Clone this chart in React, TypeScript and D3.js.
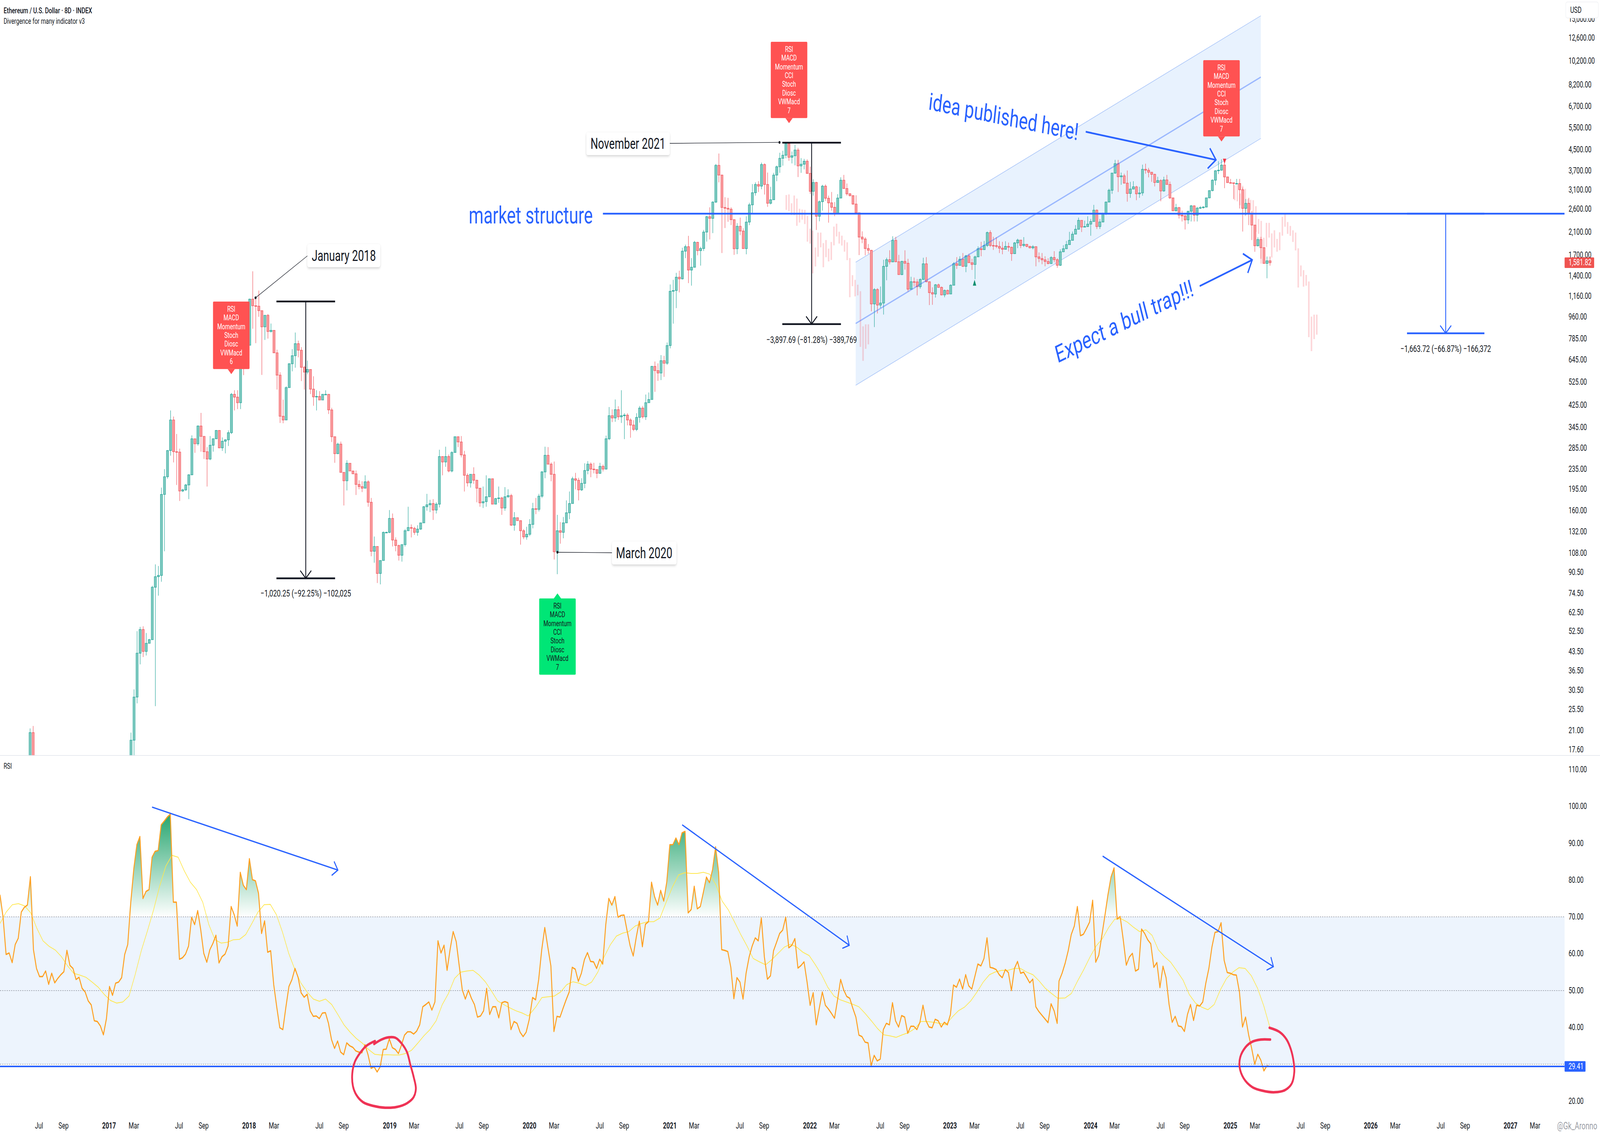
import { area, curveCatmullRom, line, scaleLinear, scaleLog } from "d3";

type Bar = [number, number, number]; // close, high, low; open is the previous close

const WIDTH = 5741;
const HEIGHT = 2903;
const PANE_RIGHT = 5614;
const PANE_SPLIT = 1934;
const LAST_BAR = 403.7;

const BLUE = "#2962ff";
const UP = { fill: "#7dc9bf", stroke: "#26a69a" };
const DOWN = { fill: "#f99a9c", stroke: "#f0555d" };
const FONT = "Roboto, sans-serif";

const priceTicks = [
  15000, 12600, 10200, 8200, 6700, 5500, 4500, 3700, 3100, 2600, 2100, 1700, 1400, 1160, 960, 785, 645, 525, 425, 345,
  285, 235, 195, 160, 132, 108, 90.5, 74.5, 62.5, 52.5, 43.5, 36.5, 30.5, 25.5, 21, 17.6,
];
const rsiTicks = [110, 100, 90, 80, 70, 60, 50, 40, 20];
const timeTicks: [string, number][] = [
  ["Jul", 2.9], ["Sep", 10.9], ["2017", 25.7], ["Mar", 33.8], ["Jul", 48.5], ["Sep", 56.5],
  ["2018", 71.3], ["Mar", 79.4], ["Jul", 94.2], ["Sep", 102.1], ["2019", 117.1], ["Mar", 125],
  ["Jul", 139.8], ["Sep", 147.7], ["2020", 162.6], ["Mar", 170.6], ["Jul", 185.5], ["Sep", 193.4],
  ["2021", 208.3], ["Mar", 216.2], ["Jul", 231.1], ["Sep", 239], ["2022", 253.9], ["Mar", 261.9],
  ["Jul", 276.8], ["Sep", 284.7], ["2023", 299.5], ["Mar", 307.5], ["Jul", 322.4], ["Sep", 330.3],
  ["2024", 345.3], ["Mar", 353.1], ["Jul", 368.1], ["Sep", 375.9], ["2025", 390.8], ["Mar", 398.8],
  ["Jul", 413.7], ["Sep", 421.7], ["2026", 436.5], ["Mar", 444.5], ["Jul", 459.3], ["Sep", 467.2],
  ["2027", 482], ["Mar", 490],
];

// the two candles of mid 2016 poking into the pane before price drops below it
const earlyBars: Bar[] = [[20.6, 21.4, 14], [14.6, 21.9, 13.5]];

const bars2017: Bar[] = [
  [19.2, 20.6, 15.5], [28.6, 30.7, 16.6], [42.9, 52.6, 27], [53.4, 54.7, 38.7], [43.6, 55, 41.4], [47, 51.7, 42],
  [48.6, 49, 47.5], [78.9, 80, 48.6], [87, 97.5, 26.3], [88, 96, 73], [186, 198, 83], [219, 235, 110], [279, 280, 215],
  [370, 404, 266], [276, 382, 250], [275, 325, 203], [192, 284, 175], [194, 196, 190], [203, 205, 192], [223, 224, 178],
  [311, 321, 222], [297, 311, 273], [350, 352, 292], [318, 395, 276], [276, 318, 258], [258, 288, 200], [293, 319, 255],
  [311, 312, 276], [336, 337, 310], [286, 336, 285], [304, 315, 278], [308, 310, 272], [329, 336, 291], [469, 475, 325],
  [457, 487, 404], [434, 487, 409], [785, 790, 409], [760, 830, 560], [738, 800, 690],
];
const bars2018: Bar[] = [
  [1130, 1135, 738], [1063, 1461, 860], [1059, 1130, 752], [1016, 1224, 960], [875, 1016, 561], [973, 975, 775],
  [838, 985, 785], [847, 902, 830], [688, 847, 688], [560, 708, 490], [383, 575, 360], [370, 446, 359], [499, 505, 370],
  [622, 625, 499], [670, 712, 580], [749, 830, 600], [705, 770, 660], [602, 725, 530], [576, 610, 490], [590, 640, 565],
  [492, 590, 470], [458, 554, 422], [460, 487, 404], [445, 483, 445], [469, 470, 445], [469, 487, 467], [406, 470, 391],
  [317, 414, 302], [271, 317, 249], [296, 300, 270], [228, 303, 228], [211, 228, 168], [248, 255, 193], [231, 248, 231],
  [225, 231, 225], [204, 232, 185], [200, 212, 195], [197, 210, 190], [209, 222, 197], [173, 212, 166], [110, 180, 105],
  [115, 126, 99], [89.6, 115, 82], [101, 101, 81], [131, 132, 101], [131, 132, 130],
];
const bars2019: Bar[] = [
  [149, 161, 130], [122, 156, 115], [116, 125, 110], [106, 117, 101], [117, 117, 100], [133, 135, 115], [137, 166, 133],
  [136, 141, 125], [131, 138, 128], [135, 140, 127], [143, 143, 134], [166, 167, 143], [169, 187, 160], [171, 177, 158],
  [161, 178, 147], [170, 173, 156], [264, 281, 165], [251, 264, 222], [264, 289, 240], [231, 269, 228], [274, 277, 228],
  [317, 317, 274], [302, 317, 288], [268, 319, 262], [222, 278, 191], [207, 226, 200], [224, 224, 198], [212, 239, 205],
  [197, 213, 173], [172, 197, 166], [174, 200, 164], [182, 222, 166], [215, 215, 182], [170, 215, 170], [179, 180, 170],
  [180, 200, 172], [164, 182, 154], [182, 199, 160], [184, 195, 180], [140, 187, 139], [150, 158, 133], [146, 150, 146],
  [133, 146, 117],
];
const bars2020: Bar[] = [
  [125.6, 135, 123], [128.7, 138, 122.5], [141, 148, 126.6], [163, 172, 136], [162, 180, 155], [183, 187, 159],
  [229, 231, 180], [267, 289, 216], [246, 288, 245], [224, 250, 210], [109.5, 252, 102], [133, 154, 89], [131, 144, 118],
  [143, 151, 124], [157, 176, 143], [171, 191, 148], [215, 219, 171], [212, 227, 195], [194, 217, 176], [206, 216, 192],
  [232, 248, 197], [246, 253, 224], [235, 250, 218], [234, 249, 226], [226, 235, 216], [241, 249, 225], [235, 245, 230],
  [311, 320, 234], [385, 417, 307], [377, 408, 363], [407, 447, 364], [381, 420, 370], [385, 487, 360], [387, 394, 310],
  [370, 394, 352], [353, 376, 314], [339, 369, 334], [379, 394, 334], [413, 421, 361], [381, 421, 375], [434, 468, 370],
  [447, 477, 434], [607, 610, 447], [584, 635, 480], [571, 624, 531], [640, 674, 535], [625, 669, 551], [736, 757, 616],
];
const bars2021: Bar[] = [
  [1215, 1294, 717], [1224, 1350, 901], [1384, 1440, 1040], [1363, 1470, 1203], [1760, 1816, 1355], [1835, 1869, 1651],
  [1478, 2027, 1310], [1517, 1651, 1280], [1910, 1935, 1512], [1769, 1920, 1695], [1804, 1833, 1540], [2100, 2140, 1763],
  [2420, 2440, 1923], [2383, 2640, 1962], [2770, 2790, 2080], [3890, 3940, 2745], [3555, 4340, 3325], [2636, 3570, 1730],
  [2616, 2900, 2180], [2595, 2880, 2310], [2355, 2640, 2240], [1800, 2360, 1700], [2215, 2280, 1713], [2120, 2400, 2040],
  [1802, 2174, 1800], [2303, 2430, 1710], [2700, 2750, 2240], [3020, 3270, 2510], [3260, 3325, 2940], [3210, 3360, 3040],
  [3920, 3990, 3120], [3260, 3960, 2970], [2740, 3640, 2650], [2830, 3190, 2710], [3555, 3630, 2825], [3840, 3880, 3360],
  [4150, 4370, 3630], [4270, 4450, 3880], [4750, 4760, 4150], [4190, 4790, 4060], [4250, 4420, 3960], [4480, 4700, 3890],
  [3870, 4570, 3490], [3930, 4160, 3630], [4040, 4130, 3750], [3610, 4110, 3600],
];
const bars2022: Bar[] = [
  [3060, 3840, 2990], [3320, 3420, 2940], [2430, 3340, 2140], [2780, 2810, 2320], [3210, 3250, 2560], [2870, 3260, 2800],
  [2750, 2940, 2290], [2640, 3040, 2560], [2490, 2770, 2430], [2875, 2980, 2480], [3390, 3480, 2870], [3140, 3560, 3130],
  [2990, 3290, 2940], [2940, 3010, 2920], [2720, 2950, 2700], [2510, 2950, 2480], [2005, 2510, 1697], [1970, 2113, 1895],
  [1804, 2005, 1693], [1775, 1880, 1718], [1081, 1780, 1010], [1235, 1250, 873], [1070, 1250, 990], [1090, 1270, 1043],
  [1530, 1625, 980], [1627, 1657, 1345], [1594, 1775, 1558], [1945, 2020, 1590], [1596, 2010, 1590], [1418, 1700, 1415],
  [1602, 1610, 1410], [1574, 1775, 1484], [1239, 1640, 1212], [1327, 1390, 1239], [1325, 1380, 1268], [1268, 1360, 1170],
  [1355, 1370, 1245], [1566, 1657, 1350],
];
const bars2023: Bar[] = [
  [1327, 1665, 1320], [1200, 1330, 1070], [1185, 1260, 1072], [1290, 1300, 1147], [1260, 1305, 1255], [1175, 1270, 1170],
  [1225, 1235, 1150], [1185, 1235, 1180], [1285, 1295, 1185], [1568, 1590, 1285], [1543, 1665, 1493], [1634, 1680, 1550],
  [1530, 1730, 1520], [1685, 1700, 1450], [1582, 1720, 1580], [1557, 1640, 1480], [1670, 1690, 1360], [1800, 1840, 1670],
  [1785, 1920, 1680], [1855, 1935, 1785], [2090, 2110, 1830], [1855, 2135, 1830], [1852, 2010, 1780], [1840, 2000, 1810],
  [1810, 1930, 1730], [1790, 1920, 1710], [1840, 1930, 1785], [1825, 1905, 1755], [1720, 1835, 1610], [1900, 1915, 1715],
  [1950, 1975, 1810], [1855, 1955, 1810], [1875, 2005, 1830], [1840, 1880, 1825], [1815, 1850, 1805], [1835, 1860, 1790],
  [1670, 1840, 1530], [1645, 1740, 1590], [1625, 1730, 1560], [1600, 1680, 1530], [1570, 1650, 1560], [1660, 1680, 1565],
  [1627, 1760, 1590], [1545, 1650, 1510], [1750, 1790, 1535], [1800, 1860, 1745],
];
const bars2024: Bar[] = [
  [1870, 1935, 1800], [1945, 2105, 1870], [2060, 2110, 1980], [2155, 2240, 2060], [2340, 2400, 2150], [2200, 2340, 2100],
  [2210, 2335, 2195], [2260, 2430, 2200], [2315, 2370, 2030], [2570, 2700, 2315], [2210, 2590, 2160], [2305, 2370, 2160],
  [2480, 2510, 2295], [2770, 2785, 2460], [3090, 3135, 2770], [3620, 3630, 2990], [3950, 4090, 3600], [3500, 4090, 3040],
  [3530, 3640, 3250], [3300, 3600, 3290], [3000, 3710, 2780], [3125, 3340, 2880], [3190, 3360, 3120], [2990, 3220, 2820],
  [3015, 3190, 2880], [3750, 3915, 2940], [3720, 3950, 3600], [3650, 3800, 3480], [3580, 3660, 3340], [3320, 3600, 3200],
  [3380, 3500, 3310], [3070, 3420, 2790], [3400, 3500, 3050], [3260, 3560, 3250], [2880, 3350, 2850],
];
const bars2025: Bar[] = [
  [2556, 2880, 2550], [2632, 2725, 2540], [2455, 2650, 2380], [2438, 2560, 2315], [2350, 2470, 2150], [2545, 2555, 2264],
  [2675, 2700, 2315], [2455, 2690, 2315], [2620, 2650, 2315], [2632, 2670, 2600], [2645, 2670, 2610], [2880, 2885, 2640],
  [3080, 3085, 2870], [3390, 3420, 3060], [3700, 3720, 3240], [3720, 4040, 3590], [3900, 4115, 3700], [3495, 4090, 3150],
  [3315, 3500, 3310], [3310, 3430, 3290], [3290, 3320, 2850], [3290, 3430, 3270], [3105, 3430, 2610], [2613, 3170, 2110],
  [2738, 2850, 2455], [2484, 2880, 2240], [2240, 2550, 1950], [1850, 2240, 1750], [1960, 2000, 1840], [1818, 2010, 1640],
  [1572, 1820, 1565], [1610, 1675, 1370], [1581.82, 1675, 1540],
];
// each yearly run starts on the bar it sits at in the picture
const barRuns: [Bar[], number][] = [
  [bars2017, 32.85], [bars2018, 71.5], [bars2019, 117], [bars2020, 160.7], [bars2021, 208.4],
  [bars2022, 254], [bars2023, 291.8], [bars2024, 337.4], [bars2025, 372.1],
];

// projected "bars pattern" of the 2021-22 drop
const ghostHighs = [
  2957, 2974, 2740, 2943, 2861, 2604, 2585, 2577, 2438, 2166, 2128, 1821, 2090, 2090, 1896, 1951, 1802, 1916, 2209, 2269,
  2106, 2031, 1951, 1910, 1652, 1410, 1350, 1291, 1216, 879, 895, 895,
];
const ghostLows = [
  2577, 2550, 2460, 2453, 2225, 2293, 2355, 2262, 1922, 1888, 1434, 1528, 1672, 1824, 1517, 1665, 1601, 1623, 1857, 2016,
  1888, 1854, 1752, 1620, 1150, 1274, 1159, 1170, 727, 639, 714, 744,
];

const rsi2016 = [
  76, 70, 59.8, 60.2, 57.6, 62.5, 64.2, 71.3, 72.6, 73.2, 80.9, 61.1, 56, 53.8, 53.8, 55.3, 51.7, 54.7, 52.1, 53.3, 54.3,
  55.1, 60.9, 56.8, 56, 53, 53.6, 50.6, 49.6, 47.2, 46.1, 41.8, 41.6, 40.4, 38, 42.4, 51.1, 48.7, 52, 52.3, 53.5, 59.8,
];
const rsi2017 = [
  62.5, 74, 83.1, 89.6, 91.8, 75, 76.9, 77.4, 86.2, 87.8, 88, 95, 96, 97.1, 97.9, 74, 74, 58.5, 58.9, 59.9, 62.1, 69.9,
  67.9, 71.7, 66.5, 60.1, 57.7, 61.1, 62.8, 65, 57.5, 59.2, 59.9, 62.1, 72.8, 70.6, 67.5, 82.1, 78.6, 77.4, 85.8, 80.1,
  79.8, 76.4, 65.5, 68.9, 60.4, 60.8, 51.6, 45.5, 39.9, 39.4, 45.5, 51.1, 53, 56, 53.6, 49.4, 48.2, 49, 44.5, 43, 43.1,
  42.4, 43.9, 44, 41.1, 36.7, 34.3, 36.3, 33.3, 32.6, 35.8, 35, 34.6, 33.6, 33.3, 33.1, 35.3, 32.6, 28.9, 29.3, 27.9,
  29.3, 34, 34.1, 36.9, 34.5, 34, 32.9, 35.2, 37.9, 38.8, 38.8, 38.2, 39, 40.7, 45.6, 46.2, 46.9, 44.7, 46.9, 63.5, 60.2,
  62.3, 55.5, 61.2, 66, 63.3, 56.7, 50.2, 47.7, 50.1, 47.9, 46.2, 42.8, 43.1, 44.5, 50.6, 43.5, 45.6, 45.6, 42.6, 46.7,
  47, 46.7, 39.4, 41.6, 41.1, 38.7, 37.5, 38.7, 42.1,
];
const rsi2020 = [
  48.1, 47.5, 53, 61.1, 67.1, 61.8, 56.7, 38.9, 43, 42.8, 45.2, 47.5, 49.6, 56.3, 55.8, 52.5, 54.7, 58.4, 60.3, 57.9,
  57.8, 56, 58.5, 57.2, 67.9, 75, 73.2, 75.5, 69.9, 70.4, 70.5, 66.2, 62.1, 59.4, 64.5, 68.8, 61.9, 68, 68.7, 79.4, 75.5,
  73.2, 77.2, 74.3, 79.5, 89.6, 89.6, 91.4, 89.6, 92.8, 93.2, 71.1, 72, 78.3, 72.2, 72.8, 76.7, 80.8, 79.3, 82.8, 89,
  82.1, 61.1, 60.9, 60.6, 56.3, 47.8, 53.5, 52.3, 47.7, 54.7, 59.1, 62.1, 64.3, 63.5, 69.7, 59.1, 53.1, 54, 60.8, 63.1,
  65.5, 66.4, 69.9, 61.6, 62.3, 64.1, 56.1, 56.8, 57.8, 52.3, 46, 49.4, 40.7, 45.2, 49.6, 46, 45, 43.8, 42.5, 47.5, 53,
  50.2, 48.4, 47.9, 45.2, 42.8, 37.9, 37.5, 36, 35.8, 29.6, 32.4, 30.9, 31.4, 39.4, 41.1, 40.7, 46.7, 41.8, 40.1, 43.2,
  42.8, 38.4, 40.3, 40.3, 39.4, 41.4, 46, 41.8, 40.1, 39.9, 42.2, 41.8, 40.1, 41.4, 40.7, 43.5, 51.5, 50.9, 53.1, 50.4,
  54.3, 51.3, 50.4, 53.8, 57.2, 56.7, 58.7, 64.3, 56.3, 56.1, 55.7, 54.3, 53.5, 55.7, 54.9, 50, 56, 57.9, 54.7, 55, 53.6,
  52.1, 53.1, 45.6, 44.3, 43.3, 42.3, 41.3, 46.4, 44.5, 41.1,
];
const rsi2024 = [
  52.6, 54.7, 57.4, 60.8, 65.2, 67.5, 72.8, 64.9, 65.3, 66.9, 68.6, 74.5, 57.7, 59.6, 64.9, 70.3, 76, 80.8, 83.3, 69.4,
  70.1, 63.8, 56.9, 59.1, 60.1, 55.3, 55.8, 66.7, 65.5, 63.8, 62.7, 56.3, 57.6, 50.8, 56.6, 53.5, 46.2, 41.4, 43, 40.4,
  40.2, 38.9, 43.5, 46.2, 41.9, 46, 45.8, 46.9, 52, 56, 61.8, 65.8, 66, 68.4, 58.2, 54.9, 54.7, 54.3, 54.2, 49.6, 40.1,
  42.8, 38, 34.3, 30, 32.7, 31.1, 28.2, 29.6, 29.41,
];

// moving average of the RSI, read every second bar
const smaEarly = [
  68.2, 71.3, 73.3, 73.6, 73, 71.1, 66.9, 63.5, 62, 61, 59.2, 56.7, 54.7, 54.2, 53.6, 52.3, 50.9, 48.9, 47.3, 46.6, 46.9,
  48.5, 54.3, 60.8, 66.2, 71.9, 78.4, 83.8, 86.7, 86.2, 82.5, 79.4, 77.4, 74, 67.9, 63.8, 62.9, 63.1, 63.8, 63.9, 65.2,
  68.2, 71.3, 73.3, 73.4, 70.6, 65.8, 60.1, 55.7, 52, 49.6, 47.7, 47.1, 47.7, 46.2, 43.5, 40.7, 38.7, 37, 35.7, 34, 32.7,
  32.5, 32.6, 32.5, 32.5, 32.9, 33.8, 35.7, 37.7, 39.4, 41.8, 46.2, 49.2, 53.3, 55, 55.3, 55.5, 54.2, 52.4, 49.9, 47.2,
  46.2, 45.3, 44.5, 43.9, 43.1,
];
const smaMiddle = [
  45.5, 48.1, 48.3, 48.5, 49.6, 51.6, 52.4, 52, 51.3, 52.3, 55, 59.1, 62.4, 64.8, 65.6, 66, 67.5, 68.2, 68.7, 68.7, 69.7,
  74, 78.1, 81.4, 82, 81.8, 81.8, 82.1, 81.6, 78.7, 74.3, 71.9, 68.6, 65.2, 62.1, 58.7, 57.8, 57, 58.4, 60.1, 61.8, 62.6,
  61.8, 60.4, 59.5, 57, 54.3, 50.9, 48.5, 47.5, 46.9, 46.3, 45.6, 43.8, 41.8, 39.7, 38, 37.7, 37.3, 38, 38.6, 39.7, 41.6,
  41.6, 41.4, 41.1, 40.7, 42.8, 44.5, 45.5, 47.2, 49.6, 52.3, 54.3, 55.1, 55.5, 55.5, 56, 56, 55, 54.3, 52.6, 50.6, 49.2,
  47.9,
];
const smaLate = [
  48, 49.2, 52.6, 55.7, 59.1, 62.1, 64.1, 67.1, 69.4, 69.5, 68.6, 67.2, 66, 66.5, 65, 61.1, 59.2, 57.7, 55.3, 52.8, 48.9,
  46.6, 45.5, 44.8, 46.2, 50.2, 53.3, 55, 56.2, 56, 54, 50.6, 45.8, 39.9,
];

const channelBars = [268.8, 400.7];
const channelTop = [1590, 15490];
const channelMid = [902, 8790];
const channelLow = [510, 4988];

const STRUCTURE_LEVEL = 2488;
const RSI_LEVEL = 29.41;
const LAST_PRICE = 1581.82;

const measures = [
  { from: 80.2, to: 99.3, top: 1105.9, bottom: 85.65, label: "−1,020.25 (−92.25%) −102,025", color: "#131722", textY: 1519 },
  { from: 244.9, to: 264, top: 4795, bottom: 897.3, label: "−3,897.69 (−81.28%) −389,769", color: "#131722", textY: 870 },
  { from: 448.3, to: 473.5, top: 2488, bottom: 824.3, label: "−1,663.72 (−66.87%) −166,372", color: BLUE, textY: 893 },
];

const priceArrows = [
  { from: [343.7, 5305], to: [386.1, 4090] },
  { from: [380.8, 1275], to: [397.9, 1624] },
];
const rsiArrows = [
  { from: [39.7, 99.8], to: [100.2, 82.7] },
  { from: [212.3, 95], to: [266.7, 62.3] },
  { from: [349.2, 86.5], to: [404.8, 56.5] },
];

const circleOne: [number, number][] = [
  [112, 35.5], [114.4, 36.7], [116.7, 37.3], [118.9, 37.2], [121, 35.6], [122.7, 33.3], [123.8, 29.9], [124.9, 26.5],
  [125.6, 23.4], [124.9, 21.1], [122.7, 19.4], [119.4, 18.4], [115.6, 18.2], [111.7, 18.7], [108.4, 19.7], [106.2, 21.7],
  [105.1, 24.1], [104.9, 27.5], [105.7, 30.6], [107.3, 32.9], [109.5, 35], [112.3, 36.3],
];
const circleTwo: [number, number][] = [
  [403.5, 39.9], [406.9, 38.7], [409.1, 36.7], [410.5, 34], [411.4, 30.6], [411.6, 27.9], [410.8, 24.8], [408.6, 23],
  [405.2, 22.4], [401.3, 22.8], [397.9, 23.8], [395.1, 26.2], [393.8, 29.2], [394, 31.9], [395.7, 34.6], [397.9, 36.1],
  [400.7, 36.7], [403.8, 36.7],
];

const signalLabels = [
  { bar: 65.5, lines: ["RSI", "MACD", "Momentum", "Stoch", "Diosc", "VWMacd", "6"], top: 772, fill: "#ff5252", ink: "#ffffff" },
  { bar: 247.1, lines: ["RSI", "MACD", "Momentum", "CCI", "Stoch", "Diosc", "VWMacd", "7"], top: 107, fill: "#ff5252", ink: "#ffffff" },
  { bar: 387.9, lines: ["RSI", "MACD", "Momentum", "CCI", "Stoch", "Diosc", "VWMacd", "7"], top: 154, fill: "#ff5252", ink: "#ffffff" },
];
const greenLabel = { bar: 171.7, lines: ["RSI", "MACD", "Momentum", "CCI", "Stoch", "Diosc", "VWMacd", "7"], top: 1532 };

const callouts = [
  { text: "January 2018", box: [1103, 625, 261, 59], from: [1103, 655], dot: [73.4, 1144] },
  { text: "November 2021", box: [2104, 339, 299, 58], from: [2403, 367], dot: [244, 4810] },
  { text: "March 2020", box: [2196, 1386, 231, 59], from: [2196, 1415], dot: [171.7, 109] },
];

const x = scaleLinear().domain([0, LAST_BAR]).range([108, 4557]);
const y = scaleLog().domain([17.6, 12600]).range([1919, 97.6]);
const yRsi = scaleLinear().domain([20, 110]).range([2818.7, 1970]);

const priceFormat = (v: number) => v.toLocaleString("en-US", { minimumFractionDigits: 2, maximumFractionDigits: 2 });

// spread a run of readings evenly over the bars it covers
function spread(values: number[], start: number, end: number): [number, number][] {
  const pos = scaleLinear().domain([0, values.length - 1]).range([start, end]);
  return values.map((v, i) => [pos(i), v]);
}

const rsiPoints = [
  ...spread([...rsi2016, ...rsi2017], -9.8, 162.5),
  ...spread(rsi2020, 163.6, 334.4),
  ...spread(rsi2024, 335, LAST_BAR),
];
const smaPoints = [
  ...spread(smaEarly, -9.8, 162.2),
  ...spread(smaMiddle, 164.6, 334.6),
  ...spread(smaLate, 337, LAST_BAR),
];

function candleData() {
  const out = earlyBars.map((b, i) => ({ bar: i, open: i === 0 ? 14 : earlyBars[i - 1][0], close: b[0], high: b[1], low: b[2] }));
  let prev = 16;
  barRuns.forEach(([bars, start], r) => {
    const next = r + 1 < barRuns.length ? barRuns[r + 1][1] : LAST_BAR + (LAST_BAR - start) / (bars.length - 1);
    const step = (next - start) / bars.length;
    bars.forEach((b, i) => {
      out.push({ bar: start + i * step, open: prev, close: b[0], high: b[1], low: b[2] });
      prev = b[0];
    });
  });
  return out;
}

function arrowHead(x1: number, y1: number, x2: number, y2: number, len: number) {
  const a = Math.atan2(y2 - y1, x2 - x1);
  const wing = Math.PI / 4;
  const p = (s: number) => `${x2 - len * Math.cos(a + s)},${y2 - len * Math.sin(a + s)}`;
  return `M${p(wing)}L${x2},${y2}L${p(-wing)}`;
}

function Candles() {
  return (
    <g>
      {candleData().map((d) => {
        const c = d.close >= d.open ? UP : DOWN;
        const top = y(Math.max(d.open, d.close));
        const bottom = y(Math.min(d.open, d.close));
        return (
          <g key={d.bar}>
            <line x1={x(d.bar)} x2={x(d.bar)} y1={y(d.high)} y2={y(d.low)} stroke={c.stroke} strokeWidth={1.6} />
            <rect x={x(d.bar) - 4} y={top} width={8} height={Math.max(bottom - top, 1.5)} fill={c.fill} stroke={c.stroke} strokeWidth={1.3} />
          </g>
        );
      })}
    </g>
  );
}

function GhostBars({ startBar, factor }: { startBar: number; factor: number }) {
  return (
    <g>
      {ghostHighs.map((h, i) => (
        <rect
          key={i}
          x={x(startBar + i * 0.862) - 2.7}
          y={y(h * factor)}
          width={5.4}
          height={y(ghostLows[i] * factor) - y(h * factor)}
          fill="#f7525f"
          fillOpacity={0.24}
        />
      ))}
    </g>
  );
}

function Label({ bar, lines, top, fill, ink, below }: { bar: number; lines: string[]; top: number; fill: string; ink: string; below: boolean }) {
  const cx = x(bar);
  const h = lines.length * 22.4 + 16;
  const tip = below ? `M${cx - 13},${top + h}L${cx},${top + h + 13}L${cx + 13},${top + h}Z` : `M${cx - 13},${top}L${cx},${top - 13}L${cx + 13},${top}Z`;
  return (
    <g>
      <rect x={cx - 65.5} y={top} width={131} height={h} rx={3} fill={fill} />
      <path d={tip} fill={fill} />
      {lines.map((t, i) => (
        <text key={i} x={cx} y={top + 19 + i * 22.4} textAnchor="middle" dominantBaseline="central" fontSize={19.5} fontFamily={FONT} fill={ink}>
          {t}
        </text>
      ))}
    </g>
  );
}

export default function App() {
  const pointLine = line<[number, number]>().x((d) => x(d[0])).y((d) => yRsi(d[1]));
  const rsiArea = area<[number, number]>()
    .x((d) => x(d[0]))
    .y0(yRsi(70))
    .y1((d) => yRsi(Math.max(d[1], 70)));
  const freehand = line<[number, number]>()
    .x((d) => x(d[0]))
    .y((d) => yRsi(d[1]))
    .curve(curveCatmullRom);

  const channelPath = `M${x(channelBars[0])},${y(channelTop[0])}L${x(channelBars[1])},${y(channelTop[1])}L${x(channelBars[1])},${y(channelLow[1])}L${x(channelBars[0])},${y(channelLow[0])}Z`;

  // the window can be narrower than the picture, so the drawing scales to whatever it gets
  return (
    <svg
      viewBox={`0 0 ${WIDTH} ${HEIGHT}`}
      preserveAspectRatio="none"
      style={{ position: "absolute", left: 0, top: 0, width: "100vw", height: "100vh", background: "#ffffff" }}
      fontFamily={FONT}
    >
      <defs>
        <clipPath id="price-pane">
          <rect x={0} y={0} width={PANE_RIGHT} height={PANE_SPLIT} />
        </clipPath>
        <linearGradient id="rsi-over" gradientUnits="userSpaceOnUse" x1={0} x2={0} y1={yRsi(100)} y2={yRsi(70)}>
          <stop offset="0%" stopColor="#0a9a5c" stopOpacity={0.95} />
          <stop offset="100%" stopColor="#0a9a5c" stopOpacity={0} />
        </linearGradient>
        <filter id="soft" x="-10%" y="-20%" width="120%" height="150%">
          <feDropShadow dx={0} dy={3} stdDeviation={3} floodColor="#000000" floodOpacity={0.18} />
        </filter>
      </defs>

      <text x={13} y={27} fontSize={20.5} fontWeight={500} fill="#131722" dominantBaseline="central">
        Ethereum / U.S. Dollar · 8D · INDEX
      </text>
      <text x={13} y={54} fontSize={20} fill="#131722" dominantBaseline="central">
        Divergence for many indicator v3
      </text>

      <g clipPath="url(#price-pane)">
        <path d={channelPath} fill="#e8f2fe" />
        <line x1={x(channelBars[0])} x2={x(channelBars[1])} y1={y(channelTop[0])} y2={y(channelTop[1])} stroke="#a8c4f8" strokeWidth={1.6} />
        <line x1={x(channelBars[0])} x2={x(channelBars[1])} y1={y(channelLow[0])} y2={y(channelLow[1])} stroke="#a8c4f8" strokeWidth={1.6} />
        <GhostBars startBar={246.2} factor={1} />
        <GhostBars startBar={392.2} factor={1.094} />
        <Candles />
        <line x1={x(channelBars[0])} x2={x(channelBars[1])} y1={y(channelMid[0])} y2={y(channelMid[1])} stroke="#2962ff" strokeOpacity={0.4} strokeWidth={3.5} />

        <line x1={x(186.5)} x2={PANE_RIGHT} y1={y(STRUCTURE_LEVEL)} y2={y(STRUCTURE_LEVEL)} stroke={BLUE} strokeWidth={4.5} />

        {measures.map((m) => {
          const cx = x((m.from + m.to) / 2);
          return (
            <g key={m.label} stroke={m.color} fill="none">
              <line x1={x(m.from)} x2={x(m.to)} y1={y(m.top)} y2={y(m.top)} strokeWidth={4.5} />
              <line x1={x(m.from)} x2={x(m.to)} y1={y(m.bottom)} y2={y(m.bottom)} strokeWidth={4.5} />
              <line x1={cx} x2={cx} y1={y(m.top)} y2={y(m.bottom)} strokeWidth={3} />
              <path d={arrowHead(cx, y(m.top), cx, y(m.bottom), 28)} strokeWidth={3} />
              <text x={cx} y={m.textY} textAnchor="middle" dominantBaseline="central" fontSize={24} stroke="none" fill="#131722">
                {m.label}
              </text>
            </g>
          );
        })}

        {priceArrows.map((a) => {
          const [x1, y1, x2, y2] = [x(a.from[0]), y(a.from[1]), x(a.to[0]), y(a.to[1])];
          return (
            <g key={a.from[0]} stroke={BLUE} strokeWidth={4.5} fill="none">
              <line x1={x1} y1={y1} x2={x2} y2={y2} />
              <path d={arrowHead(x1, y1, x2, y2, 37)} />
            </g>
          );
        })}

        <text x={1682} y={551} fontSize={60.5} fill={BLUE} dominantBaseline="central">market structure</text>
        <text x={3330} y={280} fontSize={61} fill={BLUE} transform="rotate(8.4 3330 280)">idea published here!</text>
        <text x={3795} y={930} fontSize={62} fill={BLUE} transform="rotate(-19.5 3795 930)">Expect a bull trap!!!</text>

        <path d={`M${x(307.5) - 6},${y(1313) + 7}L${x(307.5)},${y(1313) - 8}L${x(307.5) + 6},${y(1313) + 7}Z`} fill="#0b8f6f" />
        <path d={`M${x(388.9) - 6},${y(4048) - 6}L${x(388.9)},${y(4048) + 7}L${x(388.9) + 6},${y(4048) - 6}Z`} fill="#f23645" />

        {callouts.map((c) => (
          <g key={c.text}>
            <line x1={c.from[0]} y1={c.from[1]} x2={x(c.dot[0])} y2={y(c.dot[1])} stroke="#131722" strokeWidth={1.3} />
            <circle cx={x(c.dot[0])} cy={y(c.dot[1])} r={3.5} fill="#131722" />
            <rect x={c.box[0]} y={c.box[1]} width={c.box[2]} height={c.box[3]} rx={6} fill="#ffffff" filter="url(#soft)" />
            <text x={c.box[0] + c.box[2] / 2} y={c.box[1] + c.box[3] / 2} textAnchor="middle" dominantBaseline="central" fontSize={38} fill="#131722">
              {c.text}
            </text>
          </g>
        ))}

        {signalLabels.map((l) => (
          <Label key={l.bar} bar={l.bar} lines={l.lines} top={l.top} fill={l.fill} ink={l.ink} below />
        ))}
        <Label bar={greenLabel.bar} lines={greenLabel.lines} top={greenLabel.top} fill="#00e676" ink="#131722" below={false} />
      </g>

      <line x1={0} x2={WIDTH} y1={PANE_SPLIT} y2={PANE_SPLIT} stroke="#e0e3eb" strokeWidth={1.5} />
      <text x={13} y={1961} fontSize={20} fill="#131722" dominantBaseline="central">RSI</text>

      <rect x={0} y={yRsi(70)} width={PANE_RIGHT} height={yRsi(30) - yRsi(70)} fill="#edf4fd" />
      {[70, 50, 30].map((v) => (
        <line key={v} x1={0} x2={PANE_RIGHT} y1={yRsi(v)} y2={yRsi(v)} stroke="#787b86" strokeWidth={1.3} strokeDasharray="4 4" />
      ))}
      <path d={rsiArea(rsiPoints) ?? ""} fill="url(#rsi-over)" />
      <path d={pointLine(smaPoints) ?? ""} fill="none" stroke="#ffe74c" strokeWidth={2} />
      <path d={pointLine(rsiPoints) ?? ""} fill="none" stroke="#ff9f1f" strokeWidth={3.4} strokeLinejoin="round" />
      <line x1={0} x2={PANE_RIGHT} y1={yRsi(RSI_LEVEL)} y2={yRsi(RSI_LEVEL)} stroke={BLUE} strokeWidth={4} />

      {rsiArrows.map((a) => {
        const [x1, y1, x2, y2] = [x(a.from[0]), yRsi(a.from[1]), x(a.to[0]), yRsi(a.to[1])];
        return (
          <g key={a.from[0]} stroke={BLUE} strokeWidth={3.4} fill="none">
            <line x1={x1} y1={y1} x2={x2} y2={y2} />
            <path d={arrowHead(x1, y1, x2, y2, 26)} />
          </g>
        );
      })}
      <path d={freehand(circleOne) ?? ""} fill="none" stroke="#ef3355" strokeWidth={6.5} strokeLinecap="round" />
      <path d={freehand(circleTwo) ?? ""} fill="none" stroke="#ef3355" strokeWidth={6.5} strokeLinecap="round" />

      {priceTicks.map((p) => (
        <text key={p} x={5628} y={y(p)} fontSize={21.5} fill="#131722" dominantBaseline="central">
          {priceFormat(p)}
        </text>
      ))}
      <rect x={5618} y={5} width={117} height={41} rx={6} fill="#ffffff" stroke="#eef0f3" strokeWidth={1.5} />
      <text x={5634} y={26} fontSize={21.5} fill="#131722" dominantBaseline="central">USD</text>
      <rect x={PANE_RIGHT} y={y(LAST_PRICE) - 13.5} width={106} height={27} rx={2} fill="#ef5350" />
      <text x={5628} y={y(LAST_PRICE)} fontSize={21.5} fill="#ffffff" dominantBaseline="central">{priceFormat(LAST_PRICE)}</text>

      {rsiTicks.map((v) => (
        <text key={v} x={5628} y={yRsi(v)} fontSize={21.5} fill="#131722" dominantBaseline="central">
          {priceFormat(v)}
        </text>
      ))}
      <rect x={PANE_RIGHT} y={yRsi(RSI_LEVEL) - 13.5} width={75} height={27} rx={2} fill={BLUE} />
      <text x={5628} y={yRsi(RSI_LEVEL)} fontSize={21.5} fill="#ffffff" dominantBaseline="central">{priceFormat(RSI_LEVEL)}</text>

      {timeTicks.map(([label, bar]) => (
        <text
          key={`${label}-${bar}`}
          x={x(bar)}
          y={2882}
          textAnchor="middle"
          dominantBaseline="central"
          fontSize={21.5}
          fontWeight={/^\d/.test(label) ? 700 : 400}
          fill="#131722"
        >
          {label}
        </text>
      ))}
      <text x={5731} y={2882} textAnchor="end" dominantBaseline="central" fontSize={25} fill="#787b86" fillOpacity={0.75}>
        @Gk_Aronno
      </text>
    </svg>
  );
}
